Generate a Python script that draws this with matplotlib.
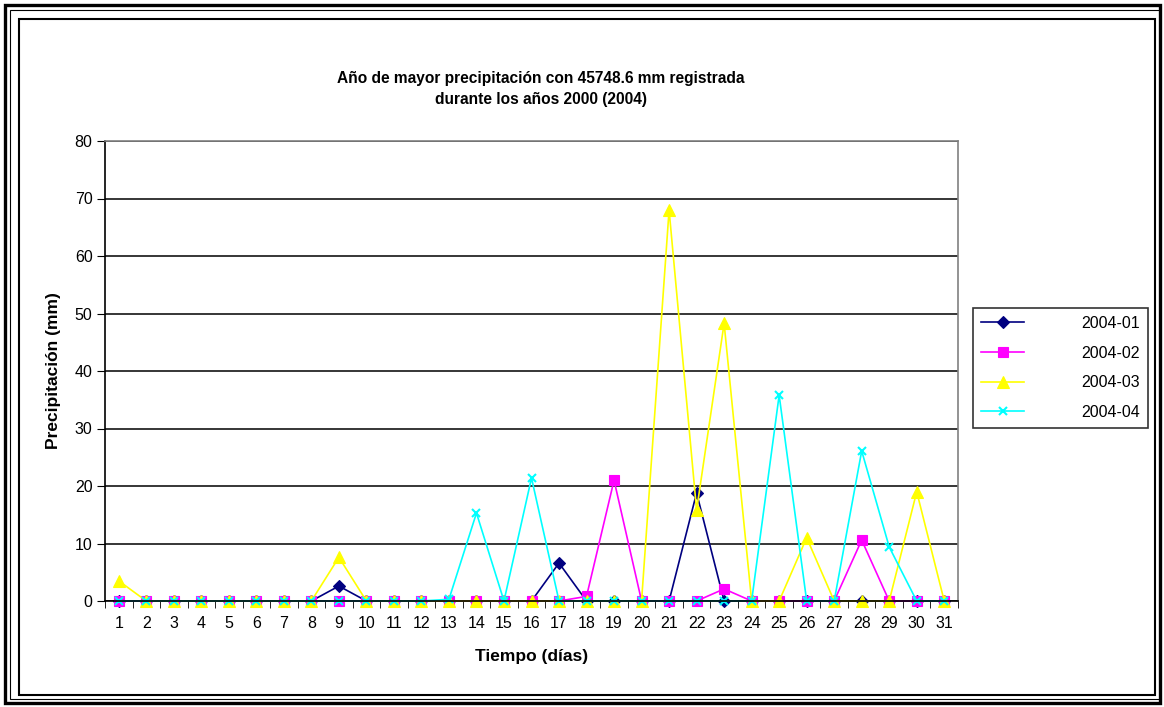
import numpy as np
import matplotlib.pyplot as plt
from matplotlib.patches import Rectangle

plt.rcParams['font.family'] = ['Liberation Sans', 'DejaVu Sans']

dias = np.arange(1, 32)

# precipitacion diaria (mm) por mes
p_2004_01 = [0, 0, 0, 0, 0, 0, 0, 0, 2.6, 0, 0, 0, 0, 0, 0, 0, 6.6, 0, 0, 0,
             0, 18.8, 0, 0, 0, 0, 0, 0, 0, 0, 0]
p_2004_02 = [0, 0, 0, 0, 0, 0, 0, 0, 0, 0, 0, 0, 0, 0, 0, 0, 0, 0.8, 21.0, 0,
             0, 0, 2.1, 0, 0, 0, 0, 10.6, 0, 0, 0]
p_2004_03 = [3.5, 0, 0, 0, 0, 0, 0, 0, 7.6, 0, 0, 0, 0, 0, 0, 0, 0, 0, 0, 0,
             68.0, 15.8, 48.3, 0, 0, 11.0, 0, 0, 0, 19.0, 0]
p_2004_04 = [0, 0, 0, 0, 0, 0, 0, 0, 0, 0, 0, 0, 0.3, 15.3, 0, 21.4, 0, 0, 0, 0,
             0, 0, 0, 0, 35.8, 0, 0, 26.1, 9.4, 0, 0]

series = [
    ('2004-01', p_2004_01, '#000080', 'D', 6),
    ('2004-02', p_2004_02, '#FF00FF', 's', 6.5),
    ('2004-03', p_2004_03, '#FFFF00', '^', 8),
    ('2004-04', p_2004_04, '#00FFFF', 'x', 6),
]

W, H = 1164, 707
fig = plt.figure(figsize=(W / 100, H / 100), dpi=100)

# marcos exteriores
def marco(x0, y0, x1, y1, lw):
    fig.patches.append(Rectangle((x0 / W, 1 - y1 / H), (x1 - x0) / W, (y1 - y0) / H,
                                 transform=fig.transFigure, fill=False,
                                 edgecolor='black', linewidth=lw))

marco(4.5, 4.5, 1159.5, 702.5, 2.4)
marco(9.5, 9.5, 1160, 699, 0.8)
marco(18.5, 18.5, 1155, 695, 1.5)

ax = fig.add_axes([105 / W, (H - 601) / H, 853 / W, 460 / H])
for nombre, valores, color, marcador, ms in series:
    ax.plot(dias, valores, color=color, marker=marcador, markersize=ms,
            linewidth=1.2, markeredgewidth=1.5 if marcador == 'x' else 0.8,
            markeredgecolor=color, label=nombre, clip_on=False)

ax.set_xlim(0.5, 31.5)
ax.set_ylim(0, 80)
ax.set_yticks(np.arange(0, 81, 10))
ax.set_xticks(dias)
ax.set_xticklabels([str(d) for d in dias])
ax.set_xticks(np.arange(0.5, 32, 1), minor=True)
ax.tick_params(axis='x', which='major', length=0, pad=11, labelsize=11.5)
ax.tick_params(axis='x', which='minor', length=5, direction='out', color='black')
ax.tick_params(axis='y', length=6, direction='out', labelsize=11.5, pad=3)
ax.yaxis.grid(True, color='black', linewidth=1.1)
ax.set_axisbelow(True)
for lado in ('top', 'right'):
    ax.spines[lado].set_color('#808080')
    ax.spines[lado].set_linewidth(1.2)
for lado in ('left', 'bottom'):
    ax.spines[lado].set_color('black')
    ax.spines[lado].set_linewidth(1.2)

ax.set_xlabel('Tiempo (días)', fontsize=12.5, fontweight='bold', labelpad=13)
ax.set_ylabel('Precipitación (mm)', fontsize=12.5, fontweight='bold', labelpad=10)

fig.text(541 / W, 1 - 89 / H,
         'Año de mayor precipitación con 45748.6 mm registrada\ndurante los años 2000 (2004)',
         ha='center', va='center', fontsize=11.2, fontweight='bold', linespacing=1.55)

leg = ax.legend(loc='upper left', bbox_to_anchor=(973 / W, 1 - 308 / H),
                bbox_transform=fig.transFigure, fontsize=11.5, frameon=True,
                fancybox=False, edgecolor='black', handlelength=2.7,
                handletextpad=3.6, labelspacing=0.92, borderpad=0.5,
                borderaxespad=0)
leg.get_frame().set_linewidth(1.2)

fig.savefig('out.png', dpi=100)
